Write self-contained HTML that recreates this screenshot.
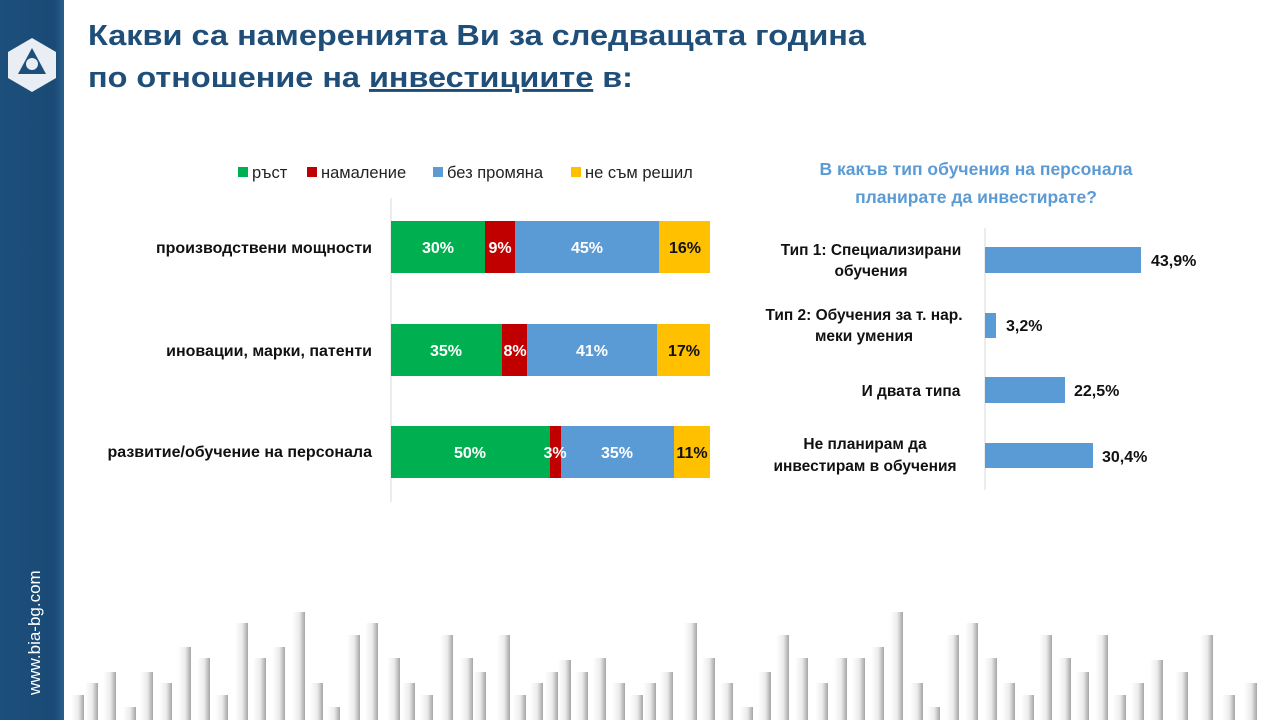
<!DOCTYPE html>
<html><head><meta charset="utf-8"><style>
html,body{margin:0;padding:0;background:#fff;}
svg{display:block;}
text{font-family:"Liberation Sans","DejaVu Sans",sans-serif;}
</style></head><body>
<svg width="1280" height="720" viewBox="0 0 1280 720" xmlns="http://www.w3.org/2000/svg">
<defs>
<linearGradient id="side" x1="0" y1="0" x2="1" y2="0">
<stop offset="0" stop-color="#1d4f7c"/><stop offset="0.85" stop-color="#1a4a75"/><stop offset="1" stop-color="#2a5f8d"/>
</linearGradient>
<linearGradient id="bar" x1="0" y1="0" x2="1" y2="0">
<stop offset="0" stop-color="#ffffff"/><stop offset="0.55" stop-color="#ececec"/><stop offset="1" stop-color="#a5a5a5"/>
</linearGradient>
</defs>
<rect x="0" y="0" width="64" height="720" fill="url(#side)"/>
<polygon points="32,38 56,52 56,78 32,92 8,78 8,52" fill="#e8eef4"/>
<polygon points="32,48 46,74 18,74" fill="#1d4f7c"/>
<circle cx="32" cy="64" r="6" fill="#e8eef4"/>
<text transform="translate(40,695) rotate(-90)" font-size="17" fill="#fff">www.bia-bg.com</text>

<text x="88" y="45" font-size="29" font-weight="bold" fill="#1f4e79" textLength="778" lengthAdjust="spacingAndGlyphs">Какви са намеренията Ви за следващата година</text>
<text x="88" y="87" font-size="29" font-weight="bold" fill="#1f4e79" textLength="545" lengthAdjust="spacingAndGlyphs">по отношение на <tspan text-decoration="underline">инвестициите</tspan> в:</text>

<g font-size="16.5" fill="#222">
<rect x="238" y="167" width="10" height="10" fill="#00b050"/><text x="252" y="178">ръст</text>
<rect x="307" y="167" width="10" height="10" fill="#c00000"/><text x="321" y="178">намаление</text>
<rect x="433" y="167" width="10" height="10" fill="#5b9bd5"/><text x="447" y="178">без промяна</text>
<rect x="571" y="167" width="10" height="10" fill="#ffc000"/><text x="585" y="178">не съм решил</text>
</g>

<line x1="391" y1="198" x2="391" y2="502" stroke="#d9d9d9" stroke-width="1"/>
<g font-size="16" font-weight="bold" fill="#111" text-anchor="end">
<text x="372" y="253">производствени мощности</text>
<text x="372" y="356">иновации, марки, патенти</text>
<text x="372" y="457">развитие/обучение на персонала</text>
</g>
<g>
<rect x="391" y="221" width="94" height="52" fill="#00b050"/>
<rect x="485" y="221" width="30" height="52" fill="#c00000"/>
<rect x="515" y="221" width="144" height="52" fill="#5b9bd5"/>
<rect x="659" y="221" width="51" height="52" fill="#ffc000"/>
<rect x="391" y="324" width="111" height="52" fill="#00b050"/>
<rect x="502" y="324" width="25" height="52" fill="#c00000"/>
<rect x="527" y="324" width="130" height="52" fill="#5b9bd5"/>
<rect x="657" y="324" width="53" height="52" fill="#ffc000"/>
<rect x="391" y="426" width="159" height="52" fill="#00b050"/>
<rect x="550" y="426" width="11" height="52" fill="#c00000"/>
<rect x="561" y="426" width="113" height="52" fill="#5b9bd5"/>
<rect x="674" y="426" width="36" height="52" fill="#ffc000"/>
</g>
<g font-size="16" font-weight="bold" text-anchor="middle" fill="#fff">
<text x="438" y="253">30%</text><text x="500" y="253">9%</text><text x="587" y="253">45%</text><text x="685" y="253" fill="#111">16%</text>
<text x="446" y="356">35%</text><text x="515" y="356">8%</text><text x="592" y="356">41%</text><text x="684" y="356" fill="#111">17%</text>
<text x="470" y="458">50%</text><text x="555" y="458">3%</text><text x="617" y="458">35%</text><text x="692" y="458" fill="#111">11%</text>
</g>

<g font-size="17.5" font-weight="bold" fill="#5b9bd5" text-anchor="middle">
<text x="976" y="175">В какъв тип обучения на персонала</text>
<text x="976" y="203">планирате да инвестирате?</text>
</g>
<line x1="985" y1="228" x2="985" y2="490" stroke="#d9d9d9" stroke-width="1"/>
<g font-size="15.5" font-weight="bold" fill="#111" text-anchor="middle">
<text x="871" y="255">Тип 1: Специализирани</text>
<text x="871" y="276">обучения</text>
<text x="864" y="320">Тип 2: Обучения за т. нар.</text>
<text x="864" y="341">меки умения</text>
<text x="911" y="396">И двата типа</text>
<text x="865" y="449">Не планирам да</text>
<text x="865" y="471">инвестирам в обучения</text>
</g>
<g fill="#5b9bd5">
<rect x="985" y="247" width="156" height="26"/>
<rect x="985" y="313" width="11" height="25"/>
<rect x="985" y="377" width="80" height="26"/>
<rect x="985" y="443" width="108" height="25"/>
</g>
<g font-size="16" font-weight="bold" fill="#111">
<text x="1151" y="266">43,9%</text>
<text x="1006" y="331">3,2%</text>
<text x="1074" y="396">22,5%</text>
<text x="1102" y="462">30,4%</text>
</g>

<g fill="url(#bar)">
<rect x="71" y="695" width="13" height="25"/><rect x="85" y="683" width="13" height="37"/><rect x="103" y="672" width="13" height="48"/><rect x="123" y="707" width="13" height="13"/><rect x="140" y="672" width="13" height="48"/><rect x="159" y="683" width="13" height="37"/><rect x="178" y="647" width="13" height="73"/><rect x="197" y="658" width="13" height="62"/><rect x="215" y="695" width="13" height="25"/><rect x="235" y="623" width="13" height="97"/><rect x="253" y="658" width="13" height="62"/><rect x="272" y="647" width="13" height="73"/><rect x="292" y="612" width="13" height="108"/><rect x="310" y="683" width="13" height="37"/><rect x="327" y="707" width="13" height="13"/><rect x="347" y="635" width="13" height="85"/><rect x="365" y="623" width="13" height="97"/><rect x="387" y="658" width="13" height="62"/><rect x="402" y="683" width="13" height="37"/><rect x="420" y="695" width="13" height="25"/><rect x="440" y="635" width="13" height="85"/><rect x="460" y="658" width="13" height="62"/><rect x="473" y="672" width="13" height="48"/><rect x="497" y="635" width="13" height="85"/><rect x="513" y="695" width="13" height="25"/>
<rect x="530" y="683" width="13" height="37"/><rect x="545" y="672" width="13" height="48"/><rect x="558" y="660" width="13" height="60"/>
<rect x="575" y="672" width="13" height="48"/><rect x="593" y="658" width="13" height="62"/><rect x="612" y="683" width="13" height="37"/><rect x="630" y="695" width="13" height="25"/><rect x="643" y="683" width="13" height="37"/>
<rect x="660" y="672" width="13" height="48"/><rect x="684" y="623" width="13" height="97"/><rect x="702" y="658" width="13" height="62"/><rect x="720" y="683" width="13" height="37"/><rect x="740" y="707" width="13" height="13"/><rect x="758" y="672" width="13" height="48"/><rect x="776" y="635" width="13" height="85"/><rect x="795" y="658" width="13" height="62"/><rect x="815" y="683" width="13" height="37"/><rect x="834" y="658" width="13" height="62"/><rect x="852" y="658" width="13" height="62"/><rect x="871" y="647" width="13" height="73"/><rect x="890" y="612" width="13" height="108"/><rect x="910" y="683" width="13" height="37"/><rect x="927" y="707" width="13" height="13"/><rect x="946" y="635" width="13" height="85"/><rect x="965" y="623" width="13" height="97"/><rect x="984" y="658" width="13" height="62"/><rect x="1002" y="683" width="13" height="37"/><rect x="1021" y="695" width="13" height="25"/><rect x="1039" y="635" width="13" height="85"/><rect x="1058" y="658" width="13" height="62"/><rect x="1076" y="672" width="13" height="48"/><rect x="1095" y="635" width="13" height="85"/><rect x="1113" y="695" width="13" height="25"/><rect x="1131" y="683" width="13" height="37"/><rect x="1150" y="660" width="13" height="60"/><rect x="1175" y="672" width="13" height="48"/><rect x="1200" y="635" width="13" height="85"/><rect x="1222" y="695" width="13" height="25"/><rect x="1244" y="683" width="13" height="37"/>
</g>
</svg>
</body></html>
